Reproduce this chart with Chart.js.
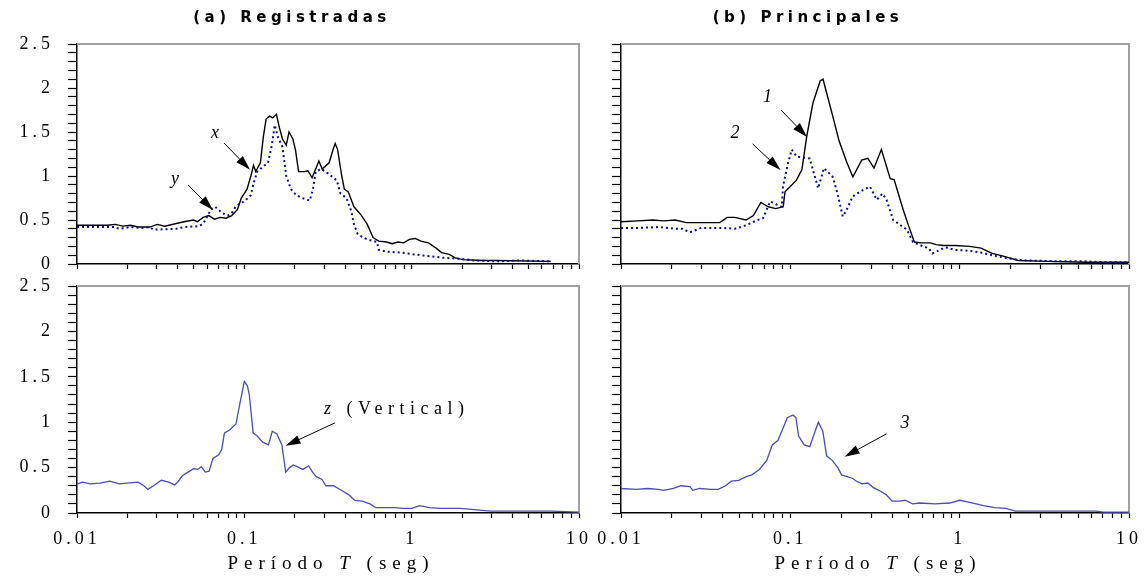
<!DOCTYPE html>
<html>
<head>
<meta charset="utf-8">
<script src="https://cdn.jsdelivr.net/npm/chart.js@4.4.1/dist/chart.umd.min.js"></script>
<style>
html, body { margin: 0; padding: 0; background: #fff; }
#lienzo { position: relative; width: 1148px; height: 577px; }
#lienzo canvas { position: absolute; left: 0; top: 0; }
</style>
</head>
<body>
<div id="lienzo">
  <canvas id="g1" width="1148" height="577"></canvas>
  <canvas id="g2" width="1148" height="577"></canvas>
  <canvas id="g3" width="1148" height="577"></canvas>
  <canvas id="g4" width="1148" height="577"></canvas>
</div>
<script>
// (a) Registradas - componente x
var periodosX = [0.01, 0.0152, 0.0169, 0.0188, 0.0209, 0.0232, 0.0272, 0.0302, 0.0335, 0.0392, 0.0436, 0.0497, 0.0524, 0.0567, 0.0613, 0.0663, 0.0718, 0.0777, 0.0841, 0.091, 0.0959, 0.1038, 0.1094, 0.1135, 0.117, 0.1247, 0.130, 0.135, 0.142, 0.1476, 0.1555, 0.162, 0.169, 0.178, 0.185, 0.195, 0.202, 0.211, 0.228, 0.240, 0.254, 0.267, 0.279, 0.292, 0.321, 0.339, 0.349, 0.361, 0.382, 0.396, 0.418, 0.452, 0.502, 0.543, 0.588, 0.636, 0.707, 0.765, 0.828, 0.896, 0.969, 1.049, 1.135, 1.26, 1.40, 1.51, 1.68, 1.82, 2.02, 2.63, 3.24, 6.78];
var valoresX = [0.44, 0.44, 0.45, 0.43, 0.44, 0.42, 0.42, 0.45, 0.43, 0.46, 0.48, 0.50, 0.48, 0.53, 0.55, 0.51, 0.53, 0.52, 0.55, 0.62, 0.75, 0.85, 1.0, 1.12, 1.05, 1.15, 1.45, 1.65, 1.68, 1.66, 1.70, 1.55, 1.42, 1.35, 1.50, 1.42, 1.30, 1.05, 1.05, 1.06, 0.98, 1.08, 1.17, 1.08, 1.15, 1.30, 1.37, 1.30, 1.0, 0.85, 0.82, 0.65, 0.55, 0.45, 0.30, 0.26, 0.25, 0.23, 0.25, 0.24, 0.28, 0.29, 0.26, 0.24, 0.18, 0.13, 0.11, 0.07, 0.05, 0.04, 0.04, 0.03];

// (a) Registradas - componente y
var periodosY = [0.01, 0.0169, 0.0178, 0.0209, 0.0245, 0.0272, 0.0286, 0.0392, 0.0436, 0.0538, 0.0567, 0.0597, 0.063, 0.067, 0.0736, 0.0797, 0.0841, 0.0886, 0.0934, 0.101, 0.109, 0.115, 0.1194, 0.128, 0.1385, 0.146, 0.152, 0.158, 0.169, 0.178, 0.190, 0.205, 0.222, 0.246, 0.257, 0.267, 0.289, 0.321, 0.357, 0.376, 0.407, 0.436, 0.452, 0.476, 0.515, 0.543, 0.620, 0.636, 0.707, 0.870, 1.02, 1.26, 1.56, 1.93, 2.39, 3.24, 4.45, 6.78];
var valoresY = [0.42, 0.42, 0.40, 0.42, 0.41, 0.42, 0.39, 0.40, 0.42, 0.43, 0.46, 0.53, 0.62, 0.65, 0.58, 0.55, 0.58, 0.65, 0.68, 0.72, 0.78, 0.95, 1.05, 1.10, 1.15, 1.35, 1.58, 1.45, 1.33, 1.0, 0.85, 0.78, 0.75, 0.72, 0.85, 1.05, 1.08, 1.02, 0.95, 0.80, 0.75, 0.60, 0.45, 0.34, 0.30, 0.28, 0.25, 0.16, 0.14, 0.13, 0.11, 0.09, 0.07, 0.06, 0.04, 0.03, 0.04, 0.03];

// (b) Principales - componente 1
var periodos1 = [0.01, 0.0126, 0.0154, 0.0179, 0.0209, 0.0243, 0.0383, 0.0424, 0.047, 0.0547, 0.0605, 0.067, 0.0741, 0.082, 0.0908, 0.093, 0.1084, 0.117, 0.125, 0.136, 0.150, 0.156, 0.164, 0.178, 0.194, 0.216, 0.234, 0.264, 0.287, 0.312, 0.345, 0.389, 0.41, 0.465, 0.496, 0.54, 0.593, 0.673, 0.726, 0.804, 0.936, 1.146, 1.336, 1.556, 1.81, 2.22, 3.33, 5.52, 10];
var valores1 = [0.48, 0.49, 0.50, 0.49, 0.50, 0.47, 0.47, 0.53, 0.53, 0.50, 0.55, 0.70, 0.65, 0.63, 0.65, 0.82, 0.95, 1.07, 1.45, 1.83, 2.08, 2.10, 1.94, 1.68, 1.40, 1.15, 0.99, 1.18, 1.20, 1.09, 1.30, 0.97, 0.96, 0.61, 0.45, 0.25, 0.24, 0.24, 0.22, 0.21, 0.21, 0.20, 0.18, 0.12, 0.09, 0.04, 0.03, 0.02, 0.02];

// (b) Principales - componente 2
var periodos2 = [0.01, 0.0126, 0.017, 0.0209, 0.0231, 0.0255, 0.0298, 0.0403, 0.047, 0.0547, 0.064, 0.069, 0.076, 0.089, 0.0905, 0.097, 0.102, 0.109, 0.130, 0.136, 0.146, 0.158, 0.178, 0.190, 0.204, 0.213, 0.234, 0.268, 0.295, 0.324, 0.35, 0.37, 0.405, 0.488, 0.53, 0.608, 0.656, 0.69, 0.745, 0.825, 0.936, 1.146, 1.336, 1.637, 2.00, 2.45, 4.07, 5.52, 7.11, 10];
var valores2 = [0.41, 0.41, 0.42, 0.40, 0.40, 0.36, 0.41, 0.41, 0.40, 0.44, 0.50, 0.52, 0.71, 0.65, 0.88, 1.15, 1.30, 1.22, 1.20, 1.07, 0.86, 1.09, 0.99, 0.80, 0.54, 0.60, 0.77, 0.84, 0.88, 0.73, 0.80, 0.73, 0.50, 0.39, 0.25, 0.20, 0.18, 0.12, 0.15, 0.19, 0.16, 0.15, 0.13, 0.09, 0.06, 0.04, 0.03, 0.03, 0.02, 0.02];

// componente z (vertical) registrada
var periodosZ = [0.01, 0.0108, 0.012, 0.0137, 0.0157, 0.0179, 0.0198, 0.0232, 0.0251, 0.0265, 0.0287, 0.0319, 0.0354, 0.0383, 0.0404, 0.0426, 0.0461, 0.0499, 0.0526, 0.0554, 0.0584, 0.0616, 0.0649, 0.0703, 0.0733, 0.076, 0.0823, 0.0891, 0.0939, 0.1, 0.1043, 0.1071, 0.1129, 0.119, 0.1288, 0.1394, 0.1469, 0.1565, 0.1677, 0.1721, 0.1767, 0.1862, 0.1963, 0.2124, 0.2239, 0.2424, 0.2555, 0.2693, 0.2914, 0.3072, 0.3413, 0.3793, 0.4214, 0.456, 0.5067, 0.563, 0.6094, 0.7932, 0.8813, 1.0, 1.117, 1.274, 1.493, 1.941, 2.275, 2.958, 3.654, 6.88, 10];
var valoresZ = [0.32, 0.34, 0.32, 0.33, 0.35, 0.32, 0.33, 0.34, 0.30, 0.26, 0.30, 0.36, 0.34, 0.31, 0.35, 0.41, 0.45, 0.49, 0.48, 0.51, 0.45, 0.46, 0.60, 0.64, 0.70, 0.88, 0.92, 0.98, 1.20, 1.45, 1.40, 1.30, 0.88, 0.85, 0.78, 0.75, 0.90, 0.87, 0.75, 0.60, 0.45, 0.50, 0.53, 0.50, 0.48, 0.52, 0.45, 0.40, 0.37, 0.30, 0.30, 0.25, 0.20, 0.14, 0.13, 0.10, 0.06, 0.06, 0.05, 0.05, 0.08, 0.06, 0.05, 0.05, 0.04, 0.02, 0.02, 0.02, 0.01];

// componente principal 3
var periodos3 = [0.01, 0.0123, 0.0143, 0.0166, 0.0179, 0.0204, 0.0226, 0.0256, 0.0265, 0.0291, 0.0339, 0.0375, 0.0415, 0.0448, 0.0496, 0.0549, 0.0593, 0.0656, 0.0726, 0.0783, 0.0846, 0.0913, 0.096, 0.1036, 0.1079, 0.1118, 0.1207, 0.1302, 0.1371, 0.1464, 0.1556, 0.1637, 0.1767, 0.1907, 0.2006, 0.2165, 0.2337, 0.2459, 0.2654, 0.2864, 0.3091, 0.3336, 0.3693, 0.3986, 0.4413, 0.4762, 0.5272, 0.5834, 0.715, 0.8762, 1.0, 1.13, 1.25, 1.384, 1.614, 1.879, 2.134, 3.289, 6.37, 7.05, 10];
var valores3 = [0.27, 0.26, 0.27, 0.26, 0.25, 0.27, 0.30, 0.29, 0.25, 0.27, 0.26, 0.26, 0.30, 0.35, 0.36, 0.40, 0.42, 0.48, 0.58, 0.75, 0.80, 0.95, 1.05, 1.08, 1.05, 0.85, 0.75, 0.73, 0.85, 1.00, 0.90, 0.63, 0.58, 0.50, 0.42, 0.40, 0.38, 0.35, 0.32, 0.33, 0.28, 0.25, 0.20, 0.13, 0.13, 0.14, 0.10, 0.11, 0.10, 0.11, 0.14, 0.12, 0.10, 0.08, 0.06, 0.05, 0.02, 0.02, 0.02, 0.01, 0.01];

// Etiquetas de los ejes
var etiquetasPeriodo = [0.01, 0.1, 1, 10];
var etiquetasValor = [0, 0.5, 1, 1.5, 2, 2.5];

var SERIF = '"Liberation Serif", "DejaVu Serif", serif';
var NEGRO = '#000000';
var AZUL_OSCURO = '#0c0c8c';
var AZUL = '#4c4cb4';

// Escribe texto por partes (para la T en cursiva)
function textoPorPartes(ctx, partes, x, y, alinear, tam, espacio) {
    ctx.letterSpacing = espacio + 'px';
    ctx.textAlign = 'left';
    ctx.textBaseline = 'middle';
    var anchos = [], total = 0;
    partes.forEach(function (p) {
        ctx.font = p[1] + ' ' + tam + 'px ' + SERIF;
        var w = ctx.measureText(p[0]).width;
        anchos.push(w);
        total += w;
    });
    var cx = alinear === 'center' ? x - total / 2 : x;
    partes.forEach(function (p, i) {
        ctx.font = p[1] + ' ' + tam + 'px ' + SERIF;
        ctx.fillText(p[0], cx, y);
        cx += anchos[i];
    });
}

// Flecha con punta rellena
function flecha(ctx, x0, y0, x1, y1) {
    var ang = Math.atan2(y1 - y0, x1 - x0), L = 15, W = 4.5;
    var c = Math.cos(ang), s = Math.sin(ang);
    ctx.strokeStyle = NEGRO;
    ctx.fillStyle = NEGRO;
    ctx.lineWidth = 1;
    ctx.beginPath();
    ctx.moveTo(x0, y0);
    ctx.lineTo(x1 - L * 0.8 * c, y1 - L * 0.8 * s);
    ctx.stroke();
    ctx.beginPath();
    ctx.moveTo(x1, y1);
    ctx.lineTo(x1 - L * c + W * s, y1 - L * s - W * c);
    ctx.lineTo(x1 - L * c - W * s, y1 - L * s + W * c);
    ctx.closePath();
    ctx.fill();
}

// Plugin: marco, titulos, flechas y titulo del eje x
var rotulos = {
    id: 'rotulos',
    beforeDraw: function (chart) {
        chart.ctx.letterSpacing = '4px';
    },
    beforeDatasetsDraw: function (chart) {
        var ctx = chart.ctx, a = chart.chartArea;
        ctx.save();
        ctx.strokeStyle = '#a0a0a0';
        ctx.lineWidth = 2;
        ctx.beginPath();
        ctx.moveTo(a.left, a.top);
        ctx.lineTo(a.right, a.top);
        ctx.lineTo(a.right, a.bottom);
        ctx.stroke();
        ctx.restore();
    },
    afterDraw: function (chart, args, o) {
        var ctx = chart.ctx, a = chart.chartArea, sx = chart.scales.x, sy = chart.scales.y;
        ctx.save();
        ctx.fillStyle = NEGRO;
        if (o.titulo) {
            ctx.letterSpacing = '4.5px';
            ctx.font = 'bold 15px "DejaVu Sans", Verdana, sans-serif';
            ctx.textAlign = 'center';
            ctx.textBaseline = 'middle';
            ctx.fillText(o.titulo.texto, o.titulo.x, o.titulo.y);
        }
        (o.flechas || []).forEach(function (f) {
            flecha(ctx, sx.getPixelForValue(f.desde[0]), sy.getPixelForValue(f.desde[1]),
                sx.getPixelForValue(f.hasta[0]), sy.getPixelForValue(f.hasta[1]));
            ctx.fillStyle = NEGRO;
            textoPorPartes(ctx, f.texto, sx.getPixelForValue(f.en[0]), sy.getPixelForValue(f.en[1]),
                f.alinear || 'center', 18, f.espacio || 0);
        });
        if (o.tituloX) {
            textoPorPartes(ctx, [['Período ', 'normal'], ['T', 'italic'], [' (seg)', 'normal']],
                (a.left + a.right) / 2 + 3, 564, 'center', 19, 6);
        }
        ctx.restore();
    }
};

function grafico(id, series, cfg) {
    var ctx = document.getElementById(id).getContext('2d');
    return new Chart(ctx, {
        type: 'line',
        data: {
            datasets: series.map(function (s) {
                return {
                    data: s.periodos.map(function (t, i) { return { x: t, y: s.valores[i] }; }),
                    borderColor: s.color,
                    borderWidth: s.ancho,
                    borderDash: s.trazo || [],
                    pointRadius: 0,
                    tension: 0,
                    fill: false
                };
            })
        },
        options: {
            responsive: false,
            animation: false,
            events: [],
            layout: { padding: cfg.padding },
            plugins: {
                legend: { display: false },
                tooltip: { enabled: false },
                rotulos: cfg.rotulos
            },
            scales: {
                x: {
                    type: 'logarithmic',
                    min: 0.01,
                    max: 10,
                    afterBuildTicks: function (scale) {
                        var t = [];
                        for (var e = -2; e <= 0; e++) {
                            for (var m = 1; m <= 9; m++) t.push({ value: +(m * Math.pow(10, e)).toPrecision(2) });
                        }
                        t.push({ value: 10 });
                        scale.ticks = t;
                    },
                    afterFit: function (scale) { scale.height = cfg.altoX; },
                    border: { color: NEGRO, width: 1.5 },
                    grid: { drawOnChartArea: false, drawTicks: true, tickLength: 5, tickColor: NEGRO, tickWidth: 1.2 },
                    ticks: {
                        display: cfg.etiquetasX,
                        autoSkip: false,
                        maxRotation: 0,
                        padding: 10,
                        color: NEGRO,
                        font: { family: SERIF, size: 18 },
                        callback: function (v) { return etiquetasPeriodo.indexOf(v) >= 0 ? String(v) : ''; }
                    }
                },
                y: {
                    min: 0,
                    max: 2.5,
                    afterBuildTicks: function (scale) {
                        var t = [];
                        for (var i = 0; i <= 25; i++) t.push({ value: i / 10 });
                        scale.ticks = t;
                    },
                    afterFit: function (scale) { scale.width = cfg.anchoY; },
                    border: { color: NEGRO, width: 1.5 },
                    grid: { drawOnChartArea: false, drawTicks: true, tickLength: 9, tickColor: NEGRO, tickWidth: 1.2 },
                    ticks: {
                        display: cfg.etiquetasY,
                        autoSkip: false,
                        padding: 14,
                        color: NEGRO,
                        font: { family: SERIF, size: 18 },
                        callback: function (v) {
                            var r = Math.round(v * 10) / 10;
                            return etiquetasValor.indexOf(r) >= 0 ? String(r) : '';
                        }
                    }
                }
            }
        },
        plugins: [rotulos]
    });
}

// Grafico 1 - Registradas (x, y)
grafico('g1', [
    { periodos: periodosY, valores: valoresY, color: AZUL_OSCURO, ancho: 2, trazo: [2, 3] },
    { periodos: periodosX, valores: valoresX, color: NEGRO, ancho: 1.4 }
], {
    padding: { left: 0, top: 44, right: 569, bottom: 303 },
    anchoY: 77, altoX: 10, etiquetasX: false, etiquetasY: true,
    rotulos: {
        titulo: { texto: '(a) Registradas', x: 292, y: 18 },
        flechas: [
            { texto: [['x', 'italic']], en: [0.0668, 1.49], desde: [0.0756, 1.375], hasta: [0.1082, 1.07] },
            { texto: [['y', 'italic']], en: [0.0385, 0.966], desde: [0.0461, 0.898], hasta: [0.065, 0.614] }
        ]
    }
});

// Grafico 2 - Principales (1, 2)
grafico('g2', [
    { periodos: periodos2, valores: valores2, color: AZUL_OSCURO, ancho: 2, trazo: [2, 3] },
    { periodos: periodos1, valores: valores1, color: NEGRO, ancho: 1.4 }
], {
    padding: { left: 609, top: 44, right: 19, bottom: 303 },
    anchoY: 12, altoX: 10, etiquetasX: false, etiquetasY: false,
    rotulos: {
        titulo: { texto: '(b) Principales', x: 808, y: 18 },
        flechas: [
            { texto: [['1', 'italic']], en: [0.0733, 1.90], desde: [0.0881, 1.75], hasta: [0.1255, 1.443] },
            { texto: [['2', 'italic']], en: [0.0471, 1.489], desde: [0.0599, 1.364], hasta: [0.0875, 1.068] }
        ]
    }
});

// Grafico 3 - Vertical (z)
grafico('g3', [
    { periodos: periodosZ, valores: valoresZ, color: AZUL, ancho: 1.3 }
], {
    padding: { left: 0, top: 286, right: 569, bottom: 24 },
    anchoY: 77, altoX: 40, etiquetasX: true, etiquetasY: true,
    rotulos: {
        tituloX: true,
        flechas: [
            { texto: [['z', 'italic'], [' (Vertical)', 'normal']], en: [0.2996, 1.137], alinear: 'left', espacio: 5.5,
              desde: [0.3485, 0.993], hasta: [0.1763, 0.74] }
        ]
    }
});

// Grafico 4 - Principal 3
grafico('g4', [
    { periodos: periodos3, valores: valores3, color: AZUL, ancho: 1.3 }
], {
    padding: { left: 609, top: 286, right: 19, bottom: 24 },
    anchoY: 12, altoX: 40, etiquetasX: true, etiquetasY: false,
    rotulos: {
        tituloX: true,
        flechas: [
            { texto: [['3', 'italic']], en: [0.4758, 0.993], desde: [0.370, 0.872], hasta: [0.2092, 0.62] }
        ]
    }
});
</script>
</body>
</html>
